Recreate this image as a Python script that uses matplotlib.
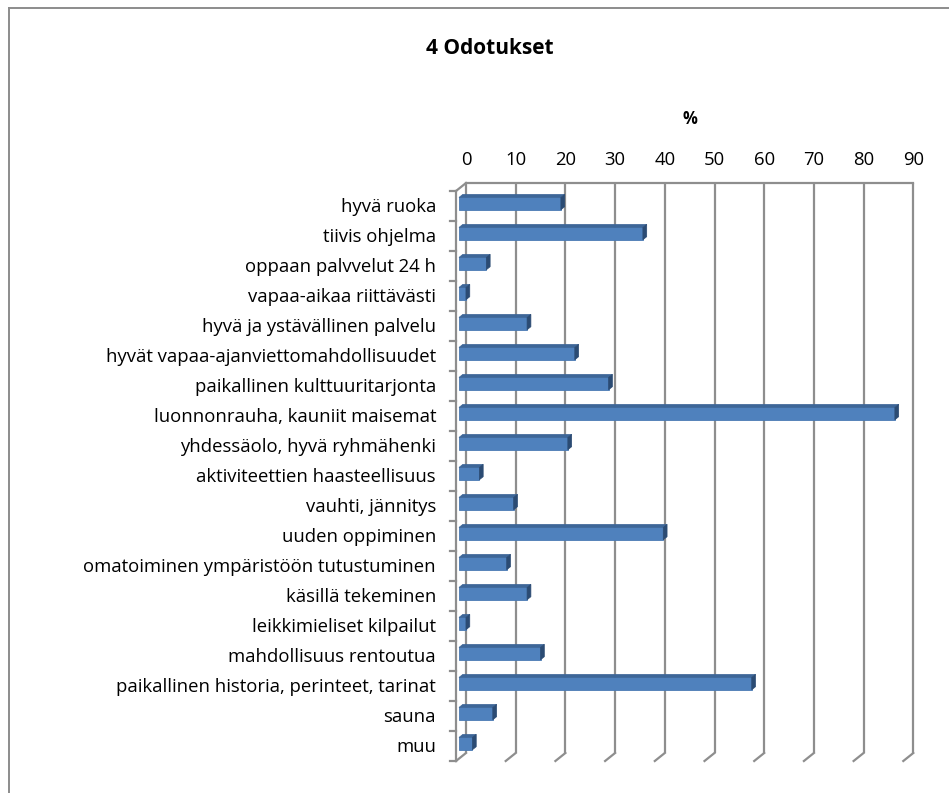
import matplotlib
matplotlib.use("Agg")
import matplotlib.pyplot as plt
from matplotlib.patches import Polygon
from matplotlib.lines import Line2D

plt.rcParams['font.family'] = ['Open Sans', 'DejaVu Sans']

title = "4 Odotukset"
axis_title = "%"
categories = [
    "hyvä ruoka",
    "tiivis ohjelma",
    "oppaan palvvelut 24 h",
    "vapaa-aikaa riittävästi",
    "hyvä ja ystävällinen palvelu",
    "hyvät vapaa-ajanviettomahdollisuudet",
    "paikallinen kulttuuritarjonta",
    "luonnonrauha, kauniit maisemat",
    "yhdessäolo, hyvä ryhmähenki",
    "aktiviteettien haasteellisuus",
    "vauhti, jännitys",
    "uuden oppiminen",
    "omatoiminen ympäristöön tutustuminen",
    "käsillä tekeminen",
    "leikkimieliset kilpailut",
    "mahdollisuus rentoutua",
    "paikallinen historia, perinteet, tarinat",
    "sauna",
    "muu",
]
values = [20.5, 37.0, 5.5, 1.4, 13.7, 23.3, 30.1, 87.7, 21.9, 4.1,
          11.0, 41.1, 9.6, 13.7, 1.4, 16.4, 58.9, 6.8, 2.7]
ticks = [0, 10, 20, 30, 40, 50, 60, 70, 80, 90]

W, H = 949, 793
fig = plt.figure(figsize=(W / 100, H / 100), dpi=100)
ax = fig.add_axes([0, 0, 1, 1])
ax.set_axis_off()

# value scale: 4.97 px per %, category band 30 px
x_px0, x_scale = 456.0, 4.97
y_px0, band = 191.0, 30.0
ax.set_xlim(-x_px0 / x_scale, (W - x_px0) / x_scale)
ax.set_ylim((H - y_px0) / band - 0.5, -y_px0 / band - 0.5)

n = len(categories)
DX, DY = 10.0 / x_scale, -8.0 / band     # oblique depth vector (front -> back)
y_top, y_bot = -0.5, n - 0.5
grid_c = "#8E8E8E"
lw = 1.6

# back wall gridlines + floor lines
for t in ticks:
    ax.plot([t + DX, t + DX], [y_top + DY, y_bot + DY], color=grid_c, lw=lw,
            zorder=1, solid_capstyle="butt")
    ax.plot([t + DX, t], [y_bot + DY, y_bot], color=grid_c, lw=lw, zorder=1)
    ax.text(t + DX, y_top + DY - 0.78, str(t), ha="center", va="center",
            fontsize=13.3, color="#000000")

# back wall top edge
ax.plot([DX, ticks[-1] + DX], [y_top + DY, y_top + DY], color=grid_c, lw=lw, zorder=1)
# left side wall
ax.plot([0, 0], [y_top, y_bot], color=grid_c, lw=lw, zorder=1)
ax.plot([0, DX], [y_top, y_top + DY], color=grid_c, lw=lw, zorder=1)
for k in range(n + 1):
    ax.plot([-1.2, 0], [k - 0.5, k - 0.5], color=grid_c, lw=lw, zorder=1)

# 3D bars
f1, f2 = 0.3, 0.68
bh = 0.41
ys = [i + f1 * DY for i in range(n)]
ax.barh(ys, values, left=f1 * DX, height=bh, color="#4F81BD",
        edgecolor="#4A7AB4", linewidth=0.6, zorder=3)
ddx, ddy = (f2 - f1) * DX, (f2 - f1) * DY
for y, v in zip(ys, values):
    x0, x1 = f1 * DX, f1 * DX + v
    top, bottom = y - bh / 2, y + bh / 2
    ax.add_patch(Polygon([(x0, top), (x1, top), (x1 + ddx, top + ddy), (x0 + ddx, top + ddy)],
                         closed=True, facecolor="#3D6698", edgecolor="#3D6698",
                         lw=0.5, zorder=3))
    ax.add_patch(Polygon([(x1, top), (x1, bottom), (x1 + ddx, bottom + ddy), (x1 + ddx, top + ddy)],
                         closed=True, facecolor="#2B4B73", edgecolor="#2B4B73",
                         lw=0.5, zorder=3))

# category labels
for i, c in enumerate(categories):
    ax.text(-4.0, i + 0.03, c, ha="right", va="center", fontsize=13.3, color="#000000")

# titles
ax.text(47.1, y_top + DY - 2.15, axis_title, ha="center",
        va="center", fontsize=12, fontweight="bold")
fig.text(490 / W, 1 - 48 / H, title, ha="center", va="center", fontsize=15,
         fontweight="bold")

# chart area frame
fig.add_artist(Line2D([9 / W, 9 / W], [0, 1 - 8 / H], transform=fig.transFigure,
                      color="#8C8C8C", lw=1.4))
fig.add_artist(Line2D([9 / W, 1], [1 - 8 / H, 1 - 8 / H], transform=fig.transFigure,
                      color="#8C8C8C", lw=1.4))

fig.savefig("out.png", dpi=100)
